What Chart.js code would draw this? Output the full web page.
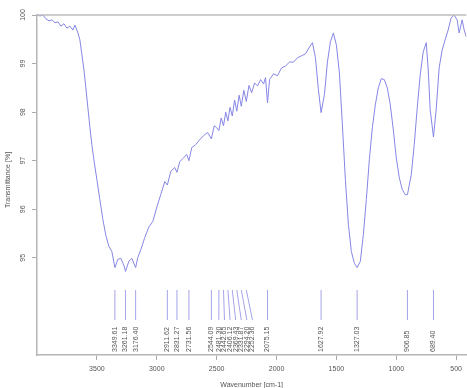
<!DOCTYPE html>
<html>
<head>
<meta charset="utf-8">
<script src="https://cdn.jsdelivr.net/npm/chart.js@4.4.0/dist/chart.umd.min.js"></script>
<style>
  html, body { margin: 0; padding: 0; background: #fff; }
  #wrap { width: 467px; height: 388px; position: relative; }
</style>
</head>
<body>
<div id="wrap"><canvas id="irChart"></canvas></div>
<script>
// IR spectrum: wavenumber (cm-1) vs transmittance (%)
var wavenumbers = [
  4000, 3975, 3950, 3925, 3900, 3875, 3850, 3825, 3800, 3775, 3750, 3725, 3700, 3683, 3658,
  3642, 3625, 3608, 3592, 3575, 3558, 3542, 3525, 3500, 3475, 3450, 3425, 3400, 3375, 3349.61,
  3325, 3300, 3275, 3261.18, 3233, 3208, 3176.40, 3158, 3133, 3100, 3067, 3033, 3000, 2967, 2933,
  2911.62, 2883, 2850, 2831.27, 2808, 2775, 2750, 2731.56, 2708, 2675, 2642, 2608, 2575, 2544.09,
  2520, 2500, 2481.30, 2462, 2442.65, 2424, 2406.12, 2388, 2369.43, 2350, 2331.87, 2312, 2294.20,
  2273, 2252.36, 2230, 2208, 2183, 2158, 2133, 2108, 2092, 2075.15, 2058, 2025, 1992, 1958, 1925,
  1892, 1858, 1825, 1792, 1758, 1725, 1700, 1675, 1650, 1627.92, 1600, 1575, 1550, 1525, 1500,
  1475, 1450, 1425, 1400, 1375, 1350, 1327.03, 1300, 1275, 1250, 1225, 1200, 1175, 1150, 1125,
  1100, 1075, 1050, 1025, 1000, 975, 950, 925, 906.85, 875, 850, 825, 800, 775, 750, 733, 717,
  689.40, 667, 642, 617, 592, 567, 542, 517, 492, 475, 450, 433, 415
];
var transmittance = [
  100.00, 99.98, 100.00, 99.92, 99.88, 99.90, 99.84, 99.86, 99.77, 99.82, 99.73, 99.77, 99.69, 99.79, 99.63,
  99.49, 99.18, 98.87, 98.50, 98.09, 97.68, 97.33, 97.02, 96.61, 96.20, 95.79, 95.46, 95.24, 95.13, 94.80,
  94.97, 94.99, 94.85, 94.72, 94.93, 94.99, 94.80, 95.01, 95.17, 95.42, 95.63, 95.75, 96.04, 96.30, 96.57,
  96.50, 96.78, 96.86, 96.76, 96.98, 97.06, 97.13, 97.00, 97.27, 97.33, 97.43, 97.52, 97.58, 97.45,
  97.72, 97.68, 97.62, 97.88, 97.72, 98.00, 97.82, 98.10, 97.92, 98.25, 98.02, 98.35, 98.12,
  98.45, 98.22, 98.55, 98.40, 98.60, 98.54, 98.67, 98.58, 98.71, 98.19, 98.67, 98.79, 98.75, 98.91, 98.95,
  99.03, 99.03, 99.12, 99.16, 99.20, 99.34, 99.43, 99.12, 98.46, 97.99, 98.36, 99.03, 99.45, 99.63, 99.38,
  98.81, 97.74, 96.61, 95.69, 95.13, 94.89, 94.80, 94.93, 95.48, 96.20, 97.02, 97.68, 98.15, 98.50, 98.69,
  98.67, 98.50, 98.15, 97.64, 97.06, 96.65, 96.41, 96.30, 96.30, 96.71, 97.33, 98.09, 98.77, 99.24, 99.43, 98.87, 98.05,
  97.49, 98.05, 98.91, 99.28, 99.49, 99.69, 99.94, 100.00, 99.90, 99.63, 99.90, 99.69, 99.55
];

// picked peaks
var peakPositions = [3349.61, 3261.18, 3176.40, 2911.62, 2831.27, 2731.56, 2544.09, 2481.30, 2442.65,
  2406.12, 2369.43, 2331.87, 2294.20, 2252.36, 2075.15, 1627.92, 1327.03, 906.85, 689.40];
var peakLabels = ['3349.61', '3261.18', '3176.40', '2911.62', '2831.27', '2731.56', '2544.09', '2481.30', '2442.65',
  '2406.12', '2369.43', '2331.87', '2294.20', '2252.36', '2075.15', '1627.92', '1327.03', '906.85', '689.40'];

var xTicks = [3500, 3000, 2500, 2000, 1500, 1000, 500];
var yTicks = [95, 96, 97, 98, 99, 100];

var points = wavenumbers.map(function (w, i) { return { x: w, y: transmittance[i] }; });

var FONT = '"Liberation Sans", Arial, sans-serif';
var TEXT = '#555';

var decorations = {
  id: 'decorations',
  afterDraw: function (chart) {
    var ctx = chart.ctx;
    var xs = chart.scales.x, ys = chart.scales.y;
    var area = chart.chartArea;
    ctx.save();

    // line along 100 %
    ctx.strokeStyle = '#bdbdbd';
    ctx.lineWidth = 1.5;
    ctx.beginPath();
    ctx.moveTo(area.left, ys.getPixelForValue(100));
    ctx.lineTo(area.right, ys.getPixelForValue(100));
    ctx.stroke();

    // y tick labels, written sideways
    ctx.fillStyle = TEXT;
    ctx.font = '7px ' + FONT;
    ctx.textAlign = 'center';
    ctx.textBaseline = 'middle';
    yTicks.forEach(function (v) {
      ctx.save();
      ctx.translate(23, ys.getPixelForValue(v));
      ctx.rotate(-Math.PI / 2);
      ctx.fillText(String(v), 0, 0);
      ctx.restore();
    });

    // axis titles
    ctx.save();
    ctx.translate(8, 180);
    ctx.rotate(-Math.PI / 2);
    ctx.fillText('Transmittance [%]', 0, 0);
    ctx.restore();
    ctx.textBaseline = 'top';
    ctx.fillText('Wavenumber [cm-1]', (area.left + area.right) / 2, 382);

    // peak markers with labels, pushed apart when crowded
    var marks = peakPositions.map(function (w, i) {
      return { px: xs.getPixelForValue(w), text: peakLabels[i] };
    }).sort(function (a, b) { return a.px - b.px; });
    var prev = -1e9;
    marks.forEach(function (m) {
      m.lx = Math.max(m.px, prev + 5.6);
      prev = m.lx;
    });
    var lineTop = area.bottom - 65, lineBottom = area.bottom - 35, textBase = area.bottom - 3;
    ctx.strokeStyle = '#a4a4ea';
    ctx.lineWidth = 1;
    marks.forEach(function (m) {
      ctx.beginPath();
      ctx.moveTo(m.px, lineTop);
      ctx.lineTo(m.lx, lineBottom);
      ctx.stroke();
    });
    ctx.fillStyle = TEXT;
    ctx.textAlign = 'left';
    ctx.textBaseline = 'middle';
    marks.forEach(function (m) {
      ctx.save();
      ctx.translate(m.lx, textBase);
      ctx.rotate(-Math.PI / 2);
      ctx.fillText(m.text, 0, 0);
      ctx.restore();
    });
    ctx.restore();
  }
};

new Chart(document.getElementById('irChart'), {
  type: 'line',
  data: {
    datasets: [{
      data: points,
      borderColor: '#8686e6',
      borderWidth: 1,
      pointRadius: 0,
      tension: 0,
      fill: false
    }]
  },
  options: {
    responsive: true,
    maintainAspectRatio: false,
    animation: false,
    layout: { padding: { top: 15, left: 0, right: 0, bottom: 0 } },
    plugins: { legend: { display: false }, tooltip: { enabled: false } },
    scales: {
      x: {
        type: 'linear',
        reverse: true,
        min: 415,
        max: 4000,
        afterBuildTicks: function (s) { s.ticks = xTicks.map(function (v) { return { value: v }; }); },
        afterFit: function (s) { s.height = 33; },
        ticks: {
          color: TEXT,
          font: { size: 7, family: FONT },
          maxRotation: 0,
          autoSkip: false,
          padding: 5,
          callback: function (v) { return String(v); }
        },
        grid: { drawOnChartArea: false, tickLength: 5, color: '#aaa' },
        border: { color: '#b5b5b5', width: 1.5 }
      },
      y: {
        min: 93.0,
        max: 100,
        afterBuildTicks: function (s) { s.ticks = yTicks.map(function (v) { return { value: v }; }); },
        afterFit: function (s) { s.width = 37; },
        ticks: { display: false },
        grid: { drawOnChartArea: false, tickLength: 5, color: '#aaa' },
        border: { color: '#b5b5b5', width: 1.5 }
      }
    }
  },
  plugins: [decorations]
});
</script>
</body>
</html>
